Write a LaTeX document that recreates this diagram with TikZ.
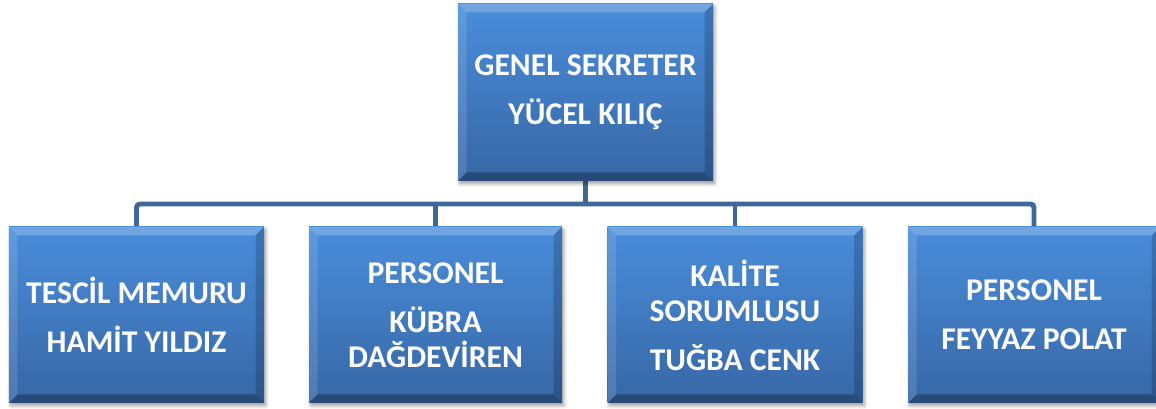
\documentclass[tikz,border=0pt]{standalone}
\usepackage{fontspec}
\setmainfont{Carlito}
\usetikzlibrary{shadows, shadows.blur}
\usetikzlibrary{backgrounds, calc, positioning}
\definecolor{boxtop}{RGB}{74,141,218}
\definecolor{boxbot}{RGB}{55,103,166}
\definecolor{linkcol}{RGB}{64,103,154}
\tikzset{
    orgbox/.style args={#1 #2}{
        rectangle, minimum width=#1, minimum height=#2, inner sep=0pt,
        top color=boxtop, bottom color=boxbot, draw=none,
        text=white, align=center,
        font=\fontsize{18}{19.9}\selectfont\bfseries,
        blur shadow={shadow xshift=1pt, shadow yshift=-1.5pt, shadow blur steps=6, shadow blur radius=2pt},
        path picture={
            \def \b {0.17}
            \fill[white, opacity=0.22] (path picture bounding box.north west) -- (path picture bounding box.north east)
                -- ($(path picture bounding box.north east)+(-\b,-\b)$) -- ($(path picture bounding box.north west)+(\b,-\b)$) -- cycle;
            \fill[white, opacity=0.12] (path picture bounding box.north west) -- (path picture bounding box.south west)
                -- ($(path picture bounding box.south west)+(\b,\b)$) -- ($(path picture bounding box.north west)+(\b,-\b)$) -- cycle;
            \fill[black, opacity=0.18] (path picture bounding box.north east) -- (path picture bounding box.south east)
                -- ($(path picture bounding box.south east)+(-\b,\b)$) -- ($(path picture bounding box.north east)+(-\b,-\b)$) -- cycle;
            \fill[black, opacity=0.28] (path picture bounding box.south west) -- (path picture bounding box.south east)
                -- ($(path picture bounding box.south east)+(-\b,\b)$) -- ($(path picture bounding box.south west)+(\b,\b)$) -- cycle;
        }
    },
    orgbox/.default={5.1cm 3.52cm},
    link/.style={draw=linkcol, line width=2.8pt, rounded corners=2pt}
}

\begin{document}
\begin{tikzpicture}
    \def \gap {0.28cm}
    \useasboundingbox (0,0) rectangle (23.12,8.18);
    % boxes
    \node[orgbox={5.1cm 3.54cm}] (sek) at (11.71,6.33) {GENEL SEKRETER\\[\gap]YÜCEL KILIÇ};
    \node[orgbox] (tes) at (2.73,1.88) {TESCİL MEMURU\\[\gap]HAMİT YILDIZ};
    \node[orgbox={5.06cm 3.52cm}] (kub) at (8.71,1.88) {PERSONEL\\[\gap]KÜBRA\\DAĞDEVİREN};
    \node[orgbox] (kal) at (14.70,1.88) {KALİTE\\SORUMLUSU\\[\gap]TUĞBA CENK};
    \node[orgbox={5.04cm 3.52cm}] (fey) at (20.68,1.88) {PERSONEL\\[\gap]FEYYAZ POLAT};
    % connectors
    \coordinate (bus) at ($(sek.south |- 0,4.1)$);
    \begin{scope}[on background layer]
    \draw[link] (sek.south) -- (bus);
    \draw[link] (tes.north) |- (bus) -| (fey.north);
    \draw[link] (kub.north) -- (kub.north |- bus);
    \draw[link] (kal.north) -- (kal.north |- bus);
    \end{scope}
\end{tikzpicture}
\end{document}
